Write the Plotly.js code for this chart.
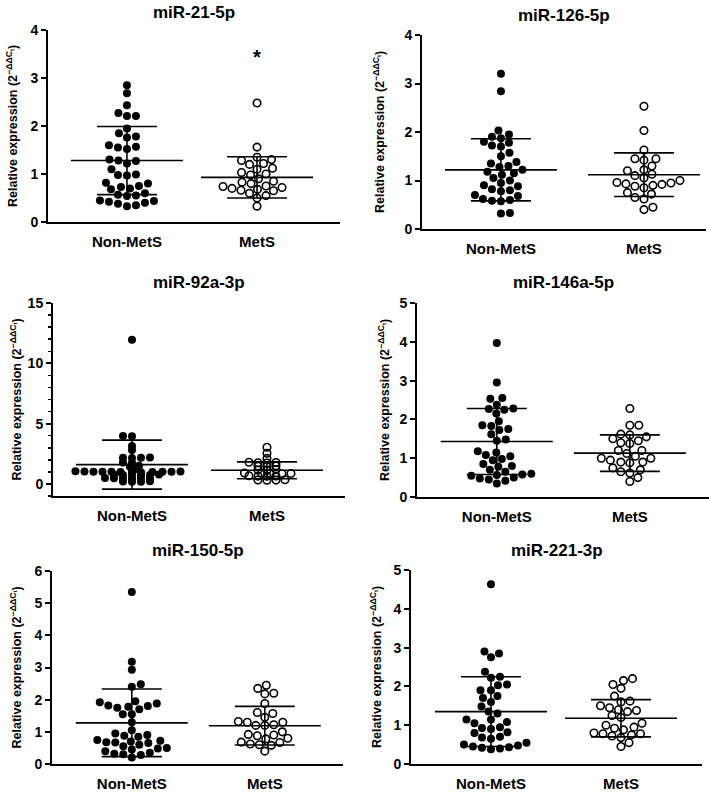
<!DOCTYPE html>
<html>
<head>
<meta charset="utf-8">
<script src="https://cdn.plot.ly/plotly-3.0.1.min.js"></script>
<style>html,body{margin:0;padding:0;background:#fff;}#chart{width:709px;height:794px;}</style>
</head>
<body>
<div id="chart"></div>
<script>
// ---------------- DATA ----------------
const categories = ['Non-MetS', 'MetS'];
const titles = ['miR-21-5p', 'miR-126-5p', 'miR-92a-3p', 'miR-146a-5p', 'miR-150-5p', 'miR-221-3p'];
const yTitle = 'Relative expression (2<sup>−ΔΔC<sub>t</sub></sup>)';

const nonMetS_21 = [2.85, 2.68, 2.43, 2.27, 2.21, 2.21, 1.95, 1.85, 1.78, 1.76, 1.60, 1.57, 1.55, 1.52, 1.30, 1.28, 1.27, 1.22, 1.10, 0.99, 0.98, 0.97, 0.82, 0.80, 0.75, 0.73, 0.70, 0.68, 0.60, 0.57, 0.55, 0.54, 0.45, 0.44, 0.42, 0.40, 0.38, 0.35, 0.33];
const metS_21 = [2.48, 1.56, 1.35, 1.30, 1.28, 1.22, 1.20, 1.12, 1.10, 1.03, 1.00, 0.98, 0.90, 0.85, 0.83, 0.80, 0.75, 0.74, 0.72, 0.70, 0.68, 0.66, 0.65, 0.60, 0.55, 0.50, 0.33];

const nonMetS_126 = [3.20, 2.84, 2.03, 1.95, 1.90, 1.87, 1.80, 1.78, 1.72, 1.70, 1.57, 1.50, 1.38, 1.35, 1.30, 1.28, 1.22, 1.18, 1.15, 1.12, 1.05, 1.00, 0.95, 0.90, 0.88, 0.82, 0.80, 0.78, 0.70, 0.68, 0.62, 0.60, 0.58, 0.57, 0.33, 0.32];
const metS_126 = [2.53, 2.03, 1.63, 1.45, 1.45, 1.42, 1.30, 1.22, 1.20, 1.13, 1.10, 1.05, 1.00, 0.96, 0.95, 0.93, 0.92, 0.90, 0.88, 0.85, 0.75, 0.72, 0.65, 0.62, 0.45, 0.40];

const nonMetS_92a = [11.95, 3.98, 3.95, 3.15, 2.82, 2.20, 2.18, 2.17, 2.15, 1.78, 1.75, 1.50, 1.42, 1.20,
  1.05, 1.04, 1.03, 1.02, 1.02, 1.01, 1.00, 1.00, 0.99, 0.98, 0.97, 0.96,
  0.78, 0.76, 0.75, 0.74, 0.72, 0.70, 0.50, 0.48, 0.47, 0.46, 0.45, 0.44, 0.22, 0.20, 0.19, 0.18];
const metS_92a = [3.04, 2.54, 2.12, 1.80, 1.78, 1.76, 1.74, 1.50, 1.48, 1.45, 1.20, 1.15, 1.12,
  0.90, 0.88, 0.87, 0.86, 0.85, 0.68, 0.66, 0.65, 0.64, 0.35, 0.33, 0.32, 0.31];

const nonMetS_146a = [3.97, 2.95, 2.55, 2.53, 2.38, 2.28, 2.27, 2.25, 2.15, 1.95, 1.85, 1.83, 1.75, 1.73, 1.62, 1.48, 1.45, 1.18, 1.15, 1.08, 1.05, 0.98, 0.95, 0.85, 0.80, 0.78, 0.70, 0.65, 0.60, 0.58, 0.57, 0.55, 0.50, 0.48, 0.45, 0.42, 0.35];
const metS_146a = [2.28, 1.85, 1.85, 1.62, 1.60, 1.55, 1.50, 1.45, 1.40, 1.38, 1.20, 1.20, 1.12, 1.05, 1.00, 1.00, 0.95, 0.90, 0.90, 0.88, 0.75, 0.70, 0.65, 0.62, 0.50, 0.40];

const nonMetS_150 = [5.35, 3.18, 2.93, 2.48, 2.40, 1.95, 1.92, 1.88, 1.82, 1.80, 1.78, 1.75, 1.70, 1.55, 1.55, 1.30, 1.05, 0.95, 0.90, 0.88, 0.85, 0.75, 0.72, 0.70, 0.68, 0.67, 0.65, 0.60, 0.55, 0.50, 0.48, 0.45, 0.40, 0.35, 0.32, 0.30, 0.28, 0.20];
const metS_150 = [2.45, 2.35, 2.20, 2.18, 1.88, 1.60, 1.57, 1.45, 1.32, 1.30, 1.30, 1.22, 1.20, 1.20, 1.00, 0.92, 0.90, 0.88, 0.80, 0.78, 0.68, 0.67, 0.62, 0.60, 0.58, 0.40];

const nonMetS_221 = [4.63, 2.90, 2.85, 2.75, 2.38, 2.25, 2.22, 2.05, 2.03, 1.90, 1.90, 1.75, 1.70, 1.60, 1.48, 1.35, 1.30, 1.15, 1.15, 1.08, 1.05, 0.95, 0.93, 0.90, 0.82, 0.80, 0.70, 0.68, 0.65, 0.55, 0.50, 0.48, 0.45, 0.43, 0.42, 0.40, 0.38];
const metS_221 = [2.20, 2.15, 2.05, 1.95, 1.75, 1.62, 1.60, 1.50, 1.45, 1.40, 1.38, 1.35, 1.25, 1.20, 1.05, 1.00, 0.95, 0.92, 0.88, 0.80, 0.78, 0.78, 0.75, 0.72, 0.68, 0.55, 0.45];

const meanNonMetS = [1.28, 1.22, 1.60, 1.43, 1.28, 1.35];
const sdNonMetS   = [0.71, 0.64, 2.03, 0.85, 1.05, 0.90];
const meanMetS    = [0.93, 1.12, 1.13, 1.13, 1.19, 1.18];
const sdMetS      = [0.43, 0.45, 0.70, 0.47, 0.60, 0.48];

const yRanges = [[0, 4], [0, 4], [-1, 15], [0, 5], [0, 6], [0, 5]];
const yDticks = [1, 1, 5, 1, 1, 1];
const significance = ['*', '', '', '', '', ''];

// ---------------- LAYOUT GEOMETRY (px) ----------------
const W = 709, H = 794;
const panels = [
  {x0: 48,  x1: 340, yt: 30,  yb: 222, xr: [-0.607, 1.638], ty: 12,  yto: 36, sdy: 8},
  {x0: 422, x1: 706, yt: 35,  yb: 229, xr: [-0.552, 1.434], ty: 15,  yto: 43, sdy: 8},
  {x0: 53,  x1: 345, yt: 303, yb: 496, xr: [-0.585, 1.578], ty: 282, yto: 38, sdy: 3},
  {x0: 417, x1: 709, yt: 303, yb: 497, xr: [-0.600, 1.595], ty: 282, yto: 33, sdy: 8},
  {x0: 52,  x1: 343, yt: 571, yb: 764, xr: [-0.600, 1.588], ty: 550, yto: 37, sdy: 8},
  {x0: 411, x1: 702, yt: 570, yb: 764, xr: [-0.615, 1.623], ty: 550, yto: 35, sdy: 8}
];

const nonMetS = [nonMetS_21, nonMetS_126, nonMetS_92a, nonMetS_146a, nonMetS_150, nonMetS_221];
const metS = [metS_21, metS_126, metS_92a, metS_146a, metS_150, metS_221];

// beeswarm: spreads points horizontally so they do not overlap (pixel space, elliptical footprint)
function swarm(vals, pxX, pxY, dX, dY) {
  const idx = vals.map((v, i) => i).sort((a, b) => vals[a] - vals[b]);
  const placed = [];
  const off = new Array(vals.length);
  let flip = 1;
  for (const i of idx) {
    const yp = vals[i] * pxY;
    let best = null;
    for (let k = 0; k < 800 && best === null; k++) {
      const cands = k === 0 ? [0] : [flip * k * 0.5, -flip * k * 0.5];
      for (const c of cands) {
        if (placed.every(p => ((p.x - c) / dX) ** 2 + ((p.y - yp) / dY) ** 2 >= 1)) { best = c; break; }
      }
    }
    if (best !== 0) flip = -flip;
    placed.push({x: best, y: yp});
    off[i] = best / pxX;
  }
  return off;
}

const FONT = 'Liberation Sans, Arial, sans-serif';
const traces = [];
const layout = {
  width: W, height: H,
  margin: {l: 0, r: 0, t: 0, b: 0},
  paper_bgcolor: '#fff', plot_bgcolor: 'rgba(0,0,0,0)',
  showlegend: false,
  annotations: []
};

panels.forEach((p, k) => {
  const n = k + 1;
  const xa = 'x' + (n === 1 ? '' : n), ya = 'y' + (n === 1 ? '' : n);
  const pxX = (p.x1 - p.x0) / (p.xr[1] - p.xr[0]);
  const yr = yRanges[k];
  const pxY = (p.yb - p.yt) / (yr[1] - yr[0]);

  const groups = [nonMetS[k], metS[k]];
  groups.forEach((vals, g) => {
    const off = swarm(vals, pxX, pxY, 9, p.sdy);
    traces.push({
      type: 'scatter', mode: 'markers', xaxis: xa, yaxis: ya,
      x: vals.map((v, i) => g + off[i]), y: vals,
      marker: g === 0
        ? {symbol: 'circle', size: 8, color: '#000'}
        : {symbol: 'circle-open', size: 7.5, color: '#000', line: {width: 1.6, color: '#000'}},
      hoverinfo: 'y'
    });
  });

  // mean and SD lines
  const means = [meanNonMetS[k], meanMetS[k]];
  const sds = [sdNonMetS[k], sdMetS[k]];
  const meanHalf = 56 / pxX, capHalf = 30 / pxX;
  const lx = [], ly = [];
  means.forEach((m, g) => {
    const s = sds[g];
    lx.push(g - meanHalf, g + meanHalf, null); ly.push(m, m, null);
    lx.push(g - capHalf, g + capHalf, null); ly.push(m + s, m + s, null);
    lx.push(g - capHalf, g + capHalf, null); ly.push(m - s, m - s, null);
    lx.push(g, g, null); ly.push(m - s, m + s, null);
  });
  traces.push({
    type: 'scatter', mode: 'lines', xaxis: xa, yaxis: ya,
    x: lx, y: ly, line: {color: '#000', width: 1.6}, hoverinfo: 'skip'
  });

  layout['xaxis' + (n === 1 ? '' : n)] = {
    domain: [p.x0 / W, p.x1 / W], anchor: ya, range: p.xr,
    showgrid: false, zeroline: false, showline: true, linewidth: 2, linecolor: '#000',
    tickmode: 'array', tickvals: [0, 1], ticktext: categories, ticks: '',
    ticklabelstandoff: 5,
    tickfont: {family: FONT, size: 15, color: '#000', weight: 'bold'},
    fixedrange: true
  };
  const yax = {
    domain: [1 - p.yb / H, 1 - p.yt / H], anchor: xa, range: yr,
    showgrid: false, zeroline: false, showline: true, linewidth: 2, linecolor: '#000',
    tick0: 0, dtick: yDticks[k], ticks: 'outside', ticklen: 5, tickwidth: 2, tickcolor: '#000',
    tickfont: {family: FONT, size: 14, color: '#000', weight: 'bold'},
    fixedrange: true
  };
  if (k === 2) yax.minor = {dtick: 1, ticklen: 3, tickwidth: 1.5, tickcolor: '#000', ticks: 'outside'};
  layout['yaxis' + (n === 1 ? '' : n)] = yax;

  // y axis title
  layout.annotations.push({
    xref: 'paper', yref: 'paper', x: (p.x0 - p.yto) / W, y: 1 - ((p.yt + p.yb) / 2) / H,
    text: yTitle, textangle: -90, showarrow: false, xanchor: 'center', yanchor: 'middle',
    font: {family: FONT, size: 12.5, color: '#000', weight: 'bold'}
  });
  // panel title
  layout.annotations.push({
    xref: 'paper', yref: 'paper', x: ((p.x0 + p.x1) / 2) / W, y: 1 - p.ty / H,
    text: titles[k], showarrow: false, xanchor: 'center', yanchor: 'middle',
    font: {family: FONT, size: 17, color: '#000', weight: 'bold'}
  });
  if (significance[k]) {
    layout.annotations.push({
      xref: xa, yref: ya, x: 1, y: metS[k].reduce((a, b) => Math.max(a, b)) + 0.95,
      text: significance[k], showarrow: false,
      font: {family: FONT, size: 20, color: '#000', weight: 'bold'}
    });
  }
});

Plotly.newPlot('chart', traces, layout, {displayModeBar: false, staticPlot: true});
</script>
</body>
</html>
